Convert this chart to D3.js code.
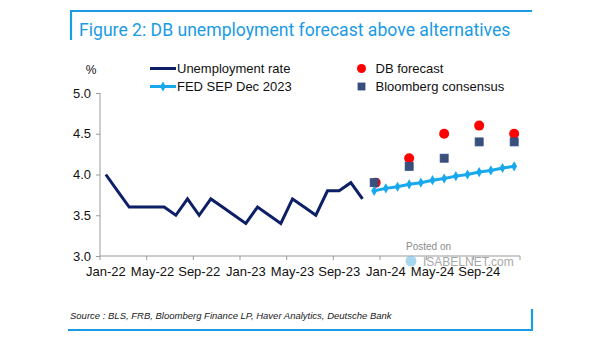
<!DOCTYPE html>
<html>
<head>
<meta charset="utf-8">
<script src="https://cdn.jsdelivr.net/npm/d3@7"></script>
<style>
  html, body { margin: 0; padding: 0; background: #fff; }
  svg { display: block; }
  .axis text { font-family: "Liberation Sans", Arial, sans-serif; font-size: 13px; fill: #111; }
  .axis path, .axis line { stroke: #9a9a9a; }
</style>
</head>
<body>
<svg id="chart" width="605" height="341"></svg>
<script>
// Monthly categories Jan-22 .. Dec-24
const monthLabels = d3.timeMonths(new Date(2022, 0, 1), new Date(2025, 0, 1)).map(d3.timeFormat("%b-%y"));
const tickLabels = ["Jan-22", "May-22", "Sep-22", "Jan-23", "May-23", "Sep-23", "Jan-24", "May-24", "Sep-24"];
const yTicks = [3.0, 3.5, 4.0, 4.5, 5.0];

// Unemployment rate, Jan-22 .. Nov-23
const unemploymentStart = "Jan-22";
const unemploymentRate = [4.0, 3.8, 3.6, 3.6, 3.6, 3.6, 3.5, 3.7, 3.5, 3.7, 3.6, 3.5,
                          3.4, 3.6, 3.5, 3.4, 3.7, 3.6, 3.5, 3.8, 3.8, 3.9, 3.7];

// FED SEP Dec 2023 path, Dec-23 .. Dec-24
const fedStart = "Dec-23";
const fedSep = [3.80, 3.83, 3.85, 3.88, 3.90, 3.93, 3.95, 3.98, 4.00, 4.03, 4.05, 4.08, 4.10];

// Quarterly forecasts
const forecastMonths = ["Dec-23", "Mar-24", "Jun-24", "Sep-24", "Dec-24"];
const dbForecast = [3.9, 4.2, 4.5, 4.6, 4.5];
const bloombergConsensus = [3.9, 4.1, 4.2, 4.4, 4.4];

const BLUE_TITLE = "#1a9be3";
const NAVY = "#0d1f66";
const LIGHT_BLUE = "#18a9ec";
const RED = "#ff0000";
const SLATE = "#3b5078";

const svg = d3.select("#chart");

// Title frame
svg.append("path")
  .attr("d", "M71,40 V11 H532")
  .attr("fill", "none").attr("stroke", BLUE_TITLE).attr("stroke-width", 2.2);
svg.append("text")
  .attr("x", 79).attr("y", 36)
  .attr("font-family", "Roboto, 'Open Sans', sans-serif")
  .attr("font-size", 17.6)
  .attr("fill", BLUE_TITLE)
  .text("Figure 2: DB unemployment forecast above alternatives");

// Footer frame
svg.append("path")
  .attr("d", "M68,330 H532 V309")
  .attr("fill", "none").attr("stroke", BLUE_TITLE).attr("stroke-width", 2.2);
svg.append("text")
  .attr("x", 70).attr("y", 318.5)
  .attr("font-family", "'Liberation Sans', Arial, sans-serif")
  .attr("font-size", 9.5).attr("font-style", "italic")
  .attr("fill", "#222")
  .text("Source : BLS, FRB, Bloomberg Finance LP, Haver Analytics, Deutsche Bank");

// Scales
const x = d3.scaleBand().domain(monthLabels).range([100, 520]).padding(0);
const xc = m => x(m) + x.bandwidth() / 2;
const y = d3.scaleLinear().domain([3, 5]).range([256, 93]);

// Y axis
const yAxis = svg.append("g").attr("class", "axis")
  .attr("transform", "translate(100,0)")
  .call(d3.axisLeft(y).tickValues(yTicks).tickFormat(d3.format(".1f")).tickSize(4).tickSizeOuter(0).tickPadding(5));
yAxis.select(".domain").attr("d", `M0,${y(3)}V${y(5)}`);

// X axis: labels at month centres, tick marks at month boundaries
const xAxis = svg.append("g").attr("class", "axis")
  .attr("transform", "translate(0,256)")
  .call(d3.axisBottom(x).tickValues(tickLabels).tickSize(0).tickPadding(11));
xAxis.select(".domain").attr("d", "M100,0H520");
const boundaryTicks = tickLabels.map(m => x(m)).concat([520]);
xAxis.selectAll(".bnd").data(boundaryTicks).enter().append("line")
  .attr("class", "bnd")
  .attr("x1", d => d).attr("x2", d => d).attr("y1", 0).attr("y2", 4)
  .attr("stroke", "#9a9a9a");

// "%" unit label
svg.append("text")
  .attr("x", 91).attr("y", 74).attr("text-anchor", "middle")
  .attr("font-family", "'Liberation Sans', Arial, sans-serif").attr("font-size", 12)
  .attr("fill", "#111").text("%");

// Unemployment rate line
const uStart = monthLabels.indexOf(unemploymentStart);
const uData = unemploymentRate.map((v, i) => ({ m: monthLabels[uStart + i], v }));
const line = d3.line().x(d => xc(d.m)).y(d => y(d.v));
svg.append("path").datum(uData)
  .attr("d", line).attr("fill", "none")
  .attr("stroke", NAVY).attr("stroke-width", 3).attr("stroke-linejoin", "miter");

// DB forecast dots
const fData = forecastMonths.map((m, i) => ({ m, db: dbForecast[i], bb: bloombergConsensus[i] }));
svg.selectAll(".db").data(fData).enter().append("circle")
  .attr("class", "db")
  .attr("cx", d => xc(d.m) + (d.db === d.bb ? 1.5 : 0))
  .attr("cy", d => y(d.db)).attr("r", 5)
  .attr("fill", RED);

// Bloomberg consensus squares
const sq = 8;
svg.selectAll(".bb").data(fData).enter().append("rect")
  .attr("class", "bb")
  .attr("x", d => xc(d.m) - sq / 2).attr("y", d => y(d.bb) - sq / 2)
  .attr("width", sq).attr("height", sq)
  .attr("fill", SLATE).attr("stroke", "#2c4a8a").attr("stroke-width", 0.8);

// FED SEP line with diamond markers
const fStart = monthLabels.indexOf(fedStart);
const fedData = fedSep.map((v, i) => ({ m: monthLabels[fStart + i], v }));
svg.append("path").datum(fedData)
  .attr("d", line).attr("fill", "none")
  .attr("stroke", LIGHT_BLUE).attr("stroke-width", 3);
const diamond = d3.symbol().type(d3.symbolDiamond).size(30);
svg.selectAll(".fed").data(fedData).enter().append("path")
  .attr("class", "fed")
  .attr("transform", d => `translate(${xc(d.m)},${y(d.v)})`)
  .attr("d", diamond).attr("fill", LIGHT_BLUE);

// Legend
const legendFont = "'Liberation Sans', Arial, sans-serif";
const lg = svg.append("g");
lg.append("line").attr("x1", 150).attr("x2", 176).attr("y1", 68.5).attr("y2", 68.5)
  .attr("stroke", NAVY).attr("stroke-width", 3);
lg.append("text").attr("x", 177).attr("y", 73).attr("font-family", legendFont).attr("font-size", 13)
  .attr("fill", "#111").text("Unemployment rate");
lg.append("line").attr("x1", 150).attr("x2", 176).attr("y1", 86.5).attr("y2", 86.5)
  .attr("stroke", LIGHT_BLUE).attr("stroke-width", 3);
lg.append("path").attr("transform", "translate(163,86.5)").attr("d", diamond).attr("fill", LIGHT_BLUE);
lg.append("text").attr("x", 177).attr("y", 91).attr("font-family", legendFont).attr("font-size", 13)
  .attr("fill", "#111").text("FED SEP Dec 2023");
lg.append("circle").attr("cx", 361.5).attr("cy", 68.5).attr("r", 4.5).attr("fill", RED);
lg.append("text").attr("x", 375.5).attr("y", 73).attr("font-family", legendFont).attr("font-size", 13)
  .attr("fill", "#111").text("DB forecast");
lg.append("rect").attr("x", 358).attr("y", 83).attr("width", 7).attr("height", 7)
  .attr("fill", SLATE).attr("stroke", "#2c4a8a").attr("stroke-width", 0.8);
lg.append("text").attr("x", 375.5).attr("y", 91).attr("font-family", legendFont).attr("font-size", 13)
  .attr("fill", "#111").text("Bloomberg consensus");

// Site stamp
const wm = svg.append("g").attr("opacity", 0.85);
wm.append("text").attr("x", 406).attr("y", 250).attr("font-family", legendFont).attr("font-size", 10)
  .attr("fill", "#777").text("Posted on");
wm.append("circle").attr("cx", 411).attr("cy", 261).attr("r", 5.5).attr("fill", "#7fc4e8").attr("opacity", 0.8);
wm.append("text").attr("x", 423).attr("y", 265.5).attr("font-family", legendFont).attr("font-size", 12)
  .attr("fill", "#999").text("ISABELNET.com");
</script>
</body>
</html>
